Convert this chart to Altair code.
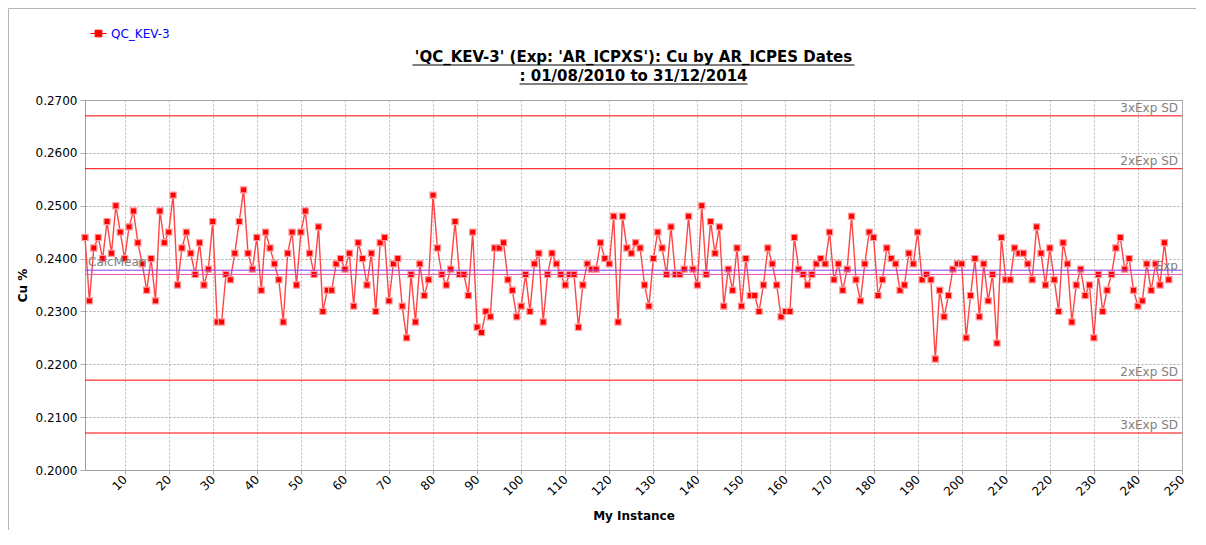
import altair as alt
import pandas as pd

# ---------------- data ----------------
series_name = "QC_KEV-3"
instances = list(range(1, 248))
cu = [0.244,0.232,0.242,0.244,0.240,0.247,0.241,0.250,0.245,0.240,
      0.246,0.249,0.243,0.239,0.234,0.240,0.232,0.249,0.243,0.245,
      0.252,0.235,0.242,0.245,0.241,0.237,0.243,0.235,0.238,0.247,
      0.228,0.228,0.237,0.236,0.241,0.247,0.253,0.241,0.238,0.244,
      0.234,0.245,0.242,0.239,0.236,0.228,0.241,0.245,0.235,0.245,
      0.249,0.241,0.237,0.246,0.230,0.234,0.234,0.239,0.240,0.238,
      0.241,0.231,0.243,0.240,0.235,0.241,0.230,0.243,0.244,0.232,
      0.239,0.240,0.231,0.225,0.237,0.228,0.239,0.233,0.236,0.252,
      0.242,0.237,0.235,0.238,0.247,0.237,0.237,0.233,0.245,0.227,
      0.226,0.230,0.229,0.242,0.242,0.243,0.236,0.234,0.229,0.231,
      0.237,0.230,0.239,0.241,0.228,0.237,0.241,0.239,0.237,0.235,
      0.237,0.237,0.227,0.235,0.239,0.238,0.238,0.243,0.240,0.239,
      0.248,0.228,0.248,0.242,0.241,0.243,0.242,0.235,0.231,0.240,
      0.245,0.242,0.237,0.246,0.237,0.237,0.238,0.248,0.238,0.235,
      0.250,0.237,0.247,0.241,0.246,0.231,0.238,0.234,0.242,0.231,
      0.240,0.233,0.233,0.230,0.235,0.242,0.239,0.235,0.229,0.230,
      0.230,0.244,0.238,0.237,0.235,0.237,0.239,0.240,0.239,0.245,
      0.236,0.239,0.234,0.238,0.248,0.236,0.232,0.239,0.245,0.244,
      0.233,0.236,0.242,0.240,0.239,0.234,0.235,0.241,0.239,0.245,
      0.236,0.237,0.236,0.221,0.234,0.229,0.233,0.238,0.239,0.239,
      0.225,0.233,0.240,0.229,0.239,0.232,0.237,0.224,0.244,0.236,
      0.236,0.242,0.241,0.241,0.239,0.236,0.246,0.241,0.235,0.242,
      0.236,0.230,0.243,0.239,0.228,0.235,0.238,0.233,0.235,0.225,
      0.237,0.230,0.234,0.237,0.242,0.244,0.238,0.240,0.234,0.231,
      0.232,0.239,0.234,0.239,0.235,0.243,0.236]

limit_values = [0.267, 0.257, 0.217, 0.207, 0.237]
limit_labels = ["3xExp SD", "2xExp SD", "2xExp SD", "3xExp SD", "Exp"]
limit_colors = ["#ff0000", "#ff0000", "#ff0000", "#ff0000", "#e855a8"]
calc_mean = 0.2378

x_ticks = list(range(10, 251, 10))
y_ticks = [0.20, 0.21, 0.22, 0.23, 0.24, 0.25, 0.26, 0.27]

title_line1 = "'QC_KEV-3' (Exp: 'AR_ICPXS'): Cu by AR_ICPES Dates"
title_line2 = ": 01/08/2010 to 31/12/2014"

# ---------------- chart ----------------
W, H = 1097, 370
FONT = "DejaVu Sans"
GRAY = "#808080"

df = pd.DataFrame({"inst": instances, "cu": cu, "series": [series_name] * len(cu)})
lim = pd.DataFrame({"v": limit_values, "label": limit_labels, "c": limit_colors})
mean_df = pd.DataFrame({"v": [calc_mean], "label": ["CalcMean"]})

xs = alt.Scale(domain=[1, 250], nice=False, zero=False)
ys = alt.Scale(domain=[0.20, 0.27], nice=False, zero=False)

x_axis = alt.Axis(values=x_ticks, format="d", labelAngle=315, labelAlign="right",
                  labelBaseline="middle", labelFont=FONT, labelFontSize=12,
                  labelColor="#000000", labelPadding=3, tickSize=4, tickColor="#b0b0b0",
                  grid=True, gridDash=[2, 2], gridColor="#b8b8b8",
                  title="My Instance", titleFont=FONT, titleFontSize=12,
                  titleFontWeight="bold", titleY=40, titleColor="#000000")
y_axis = alt.Axis(values=y_ticks, format=".4f", labelFont=FONT, labelFontSize=12,
                  labelColor="#000000", labelPadding=3, tickSize=5, tickColor="#b0b0b0",
                  grid=True, gridDash=[2, 2], gridColor="#a8a8a8",
                  title="Cu %", titleFont=FONT, titleFontSize=12, titleFontWeight="bold",
                  titleX=-63, titleY=H / 2, titleAngle=270, titleAlign="center",
                  titleBaseline="middle", titleColor="#000000")

base = alt.Chart(df)

line = base.mark_line(color="#ff4545", strokeWidth=1.4).encode(
    x=alt.X("inst:Q", scale=xs, axis=x_axis),
    y=alt.Y("cu:Q", scale=ys, axis=y_axis),
)

legend = alt.Legend(
    title=None, orient="none", legendX=5, legendY=-75,
    symbolType="M-1,0H1M-0.42,-0.42H0.42V0.42H-0.42Z",
    symbolSize=256, symbolStrokeColor="#ff0000", symbolFillColor="#ff0000",
    symbolStrokeWidth=1, labelColor="#0000ff", labelFont=FONT, labelFontSize=12,
    labelOffset=4, padding=0,
)

points = base.mark_point(shape="square", filled=True, size=38, stroke="#ff9a9a",
                         strokeWidth=1.2, opacity=1).encode(
    x=alt.X("inst:Q", scale=xs),
    y=alt.Y("cu:Q", scale=ys),
    color=alt.Color("series:N", scale=alt.Scale(domain=[series_name], range=["#ff0000"]),
                    legend=legend),
)

lim_rules = alt.Chart(lim).mark_rule(strokeWidth=1).encode(
    y=alt.Y("v:Q", scale=ys),
    x=alt.value(0), x2=alt.value(W),
    color=alt.Color("c:N", scale=None),
)
lim_text = alt.Chart(lim).mark_text(align="right", baseline="alphabetic", dy=-4,
                                    font=FONT, fontSize=12, color=GRAY).encode(
    y=alt.Y("v:Q", scale=ys), x=alt.value(W - 4), text="label:N",
)
mean_rule = alt.Chart(mean_df).mark_rule(strokeWidth=1, color="#8a3cf0").encode(
    y=alt.Y("v:Q", scale=ys), x=alt.value(0), x2=alt.value(W),
)
mean_text = alt.Chart(mean_df).mark_text(align="left", baseline="alphabetic", dy=-4,
                                         font=FONT, fontSize=12, color=GRAY).encode(
    y=alt.Y("v:Q", scale=ys), x=alt.value(3), text="label:N",
)

t_df = pd.DataFrame({"t": [title_line1, title_line2], "row": [0, 1]})
title1 = alt.Chart(t_df).transform_filter("datum.row == 0").mark_text(
    align="center", baseline="alphabetic", font=FONT, fontSize=15, fontWeight="bold",
    color="#000000").encode(x=alt.value(W / 2), y=alt.value(-38), text="t:N")
title2 = alt.Chart(t_df).transform_filter("datum.row == 1").mark_text(
    align="center", baseline="alphabetic", font=FONT, fontSize=15, fontWeight="bold",
    color="#000000").encode(x=alt.value(W / 2), y=alt.value(-19), text="t:N")
ul1 = alt.Chart(t_df).transform_filter("datum.row == 0").mark_rule(
    color="#000000", strokeWidth=1).encode(
    x=alt.value(W / 2 - 221), x2=alt.value(W / 2 + 221), y=alt.value(-35))
ul2 = alt.Chart(t_df).transform_filter("datum.row == 1").mark_rule(
    color="#000000", strokeWidth=1).encode(
    x=alt.value(W / 2 - 114), x2=alt.value(W / 2 + 114), y=alt.value(-16))

frame = alt.Chart(t_df).transform_filter("datum.row == 0").mark_rect(
    fill=None, stroke="#b4b4b4", strokeWidth=1, clip=False).encode(
    x=alt.value(-76.5), x2=alt.value(W + 200), y=alt.value(-91.5), y2=alt.value(H + 200))

chart = alt.layer(
    frame, line, points, lim_rules, mean_rule, lim_text, mean_text,
    title1, title2, ul1, ul2,
).properties(
    width=W, height=H,
    autosize=alt.AutoSizeParams(type="none"),
    padding={"left": 77, "top": 92, "right": 14, "bottom": 60},
    background="#ffffff",
).configure_view(
    stroke="#a0a0a0", strokeWidth=1,
).configure_axis(
    domainColor="#a0a0a0",
)

chart.save("out.html", embed_options={"renderer": "svg", "actions": False})
